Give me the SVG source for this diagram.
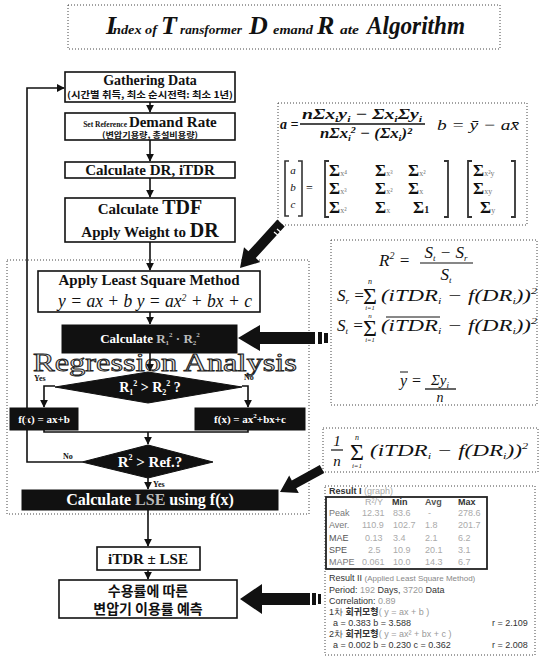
<svg xmlns="http://www.w3.org/2000/svg" width="541" height="659" viewBox="0 0 541 659">
<defs>
<style>
.box{fill:#fff;stroke:#111;stroke-width:1.6}
.blk{fill:#111;stroke:#111;stroke-width:1}
.dot{fill:none;stroke:#444;stroke-width:1;stroke-dasharray:1 2}
.bt{font-family:"Liberation Serif",serif;font-weight:bold;fill:#111;text-anchor:middle}
.wt{font-family:"Liberation Serif",serif;font-weight:bold;fill:#fff;text-anchor:middle}
.kr{font-family:"Noto Sans CJK KR","Noto Sans",sans-serif;font-weight:bold;fill:#111;text-anchor:middle}
.lab{font-family:"Liberation Serif",serif;font-weight:bold;font-size:8px;fill:#111}
.fm{font-family:"Liberation Serif",serif;font-style:italic;fill:#111}
.sg{font-family:"Liberation Serif",serif;fill:#111}
.sb{font-size:9px}
.rs{font-family:"Liberation Sans",sans-serif;font-size:9px;fill:#333}
.fa{fill:#aaa}
.conn{fill:none;stroke:#111;stroke-width:1.6}
.ti{font-family:"Liberation Serif",serif;font-style:italic;font-weight:bold;fill:#111}
.tc{font-size:26px}
.tl{font-size:12px}
</style>
<marker id="ah" viewBox="0 0 10 10" refX="9" refY="5" markerWidth="5" markerHeight="5" orient="auto">
<path d="M0,0 L10,5 L0,10 z" fill="#111"/>
</marker>
<pattern id="speck" width="7" height="7" patternUnits="userSpaceOnUse">
<rect width="7" height="7" fill="#f3f3f3"/>
<rect x="1" y="1" width="1" height="1" fill="#9a9a9a"/>
<rect x="4" y="3" width="1" height="1" fill="#b5b5b5"/>
<rect x="2" y="5" width="1" height="1" fill="#8a8a8a"/>
<rect x="6" y="6" width="1" height="1" fill="#c0c0c0"/>
</pattern>
</defs>

<!-- Title -->
<g id="title">
<rect x="68" y="5" width="432" height="44" fill="#fff" class="dot"/>
<text class="ti tc" x="106" y="34">I</text>
<text class="ti tl" x="113" y="34" textLength="44" lengthAdjust="spacingAndGlyphs">ndex of</text>
<text class="ti tc" x="161" y="34">T</text>
<text class="ti tl" x="180" y="34" textLength="62" lengthAdjust="spacingAndGlyphs">ransformer</text>
<text class="ti tc" x="249" y="34">D</text>
<text class="ti tl" x="273" y="34" textLength="40" lengthAdjust="spacingAndGlyphs">emand</text>
<text class="ti tc" x="317" y="34">R</text>
<text class="ti tl" x="340" y="34" textLength="19" lengthAdjust="spacingAndGlyphs">ate</text>
<text class="ti tc" x="367" y="34" textLength="98" lengthAdjust="spacingAndGlyphs">Algorithm</text>
</g>

<!-- Regression region -->
<g id="region">
<rect x="7" y="260" width="302" height="254" fill="url(#speck)" class="dot"/>
</g>

<!-- Right panels -->
<g id="panel1">
<rect x="278" y="103" width="249" height="122" fill="#fff" class="dot"/>
<text class="fm" x="280" y="129" font-size="14" font-weight="bold">a =</text>
<text class="fm" x="302" y="119" font-size="15" font-weight="bold" textLength="120" lengthAdjust="spacingAndGlyphs">n<tspan class="sg">Σ</tspan>x<tspan class="sb" dy="3">i</tspan><tspan dy="-3">y</tspan><tspan class="sb" dy="3">i</tspan><tspan dy="-3"> − </tspan><tspan class="sg">Σ</tspan>x<tspan class="sb" dy="3">i</tspan><tspan dy="-3" class="sg">Σ</tspan>y<tspan class="sb" dy="3">i</tspan></text>
<line x1="300" y1="124" x2="425" y2="124" stroke="#111" stroke-width="1.3"/>
<text class="fm" x="320" y="138" font-size="15" font-weight="bold" textLength="92" lengthAdjust="spacingAndGlyphs">n<tspan class="sg">Σ</tspan>x<tspan class="sb" dy="3">i</tspan><tspan class="sb" dy="-8">2</tspan><tspan dy="5"> − (</tspan><tspan class="sg">Σ</tspan>x<tspan class="sb" dy="3">i</tspan><tspan dy="-3">)²</tspan></text>
<text class="fm" x="437" y="130" font-size="15" fill="#555" textLength="82" lengthAdjust="spacingAndGlyphs">b = ȳ − ax̄</text>
<path d="M289,161 H285 V216 H289 M298,161 H302 V216 H298" fill="none" stroke="#333" stroke-width="1.6"/>
<text class="fm" x="293" y="174" font-size="11" text-anchor="middle" fill="#555">a</text>
<text class="fm" x="293" y="191" font-size="11" text-anchor="middle" fill="#555">b</text>
<text class="fm" x="293" y="208" font-size="11" text-anchor="middle" fill="#555">c</text>
<text class="sg" x="306" y="192" font-size="12" fill="#666">=</text>
<path d="M329,161 H325 V217 H329 M444,161 H448 V217 H444" fill="none" stroke="#333" stroke-width="1.8"/>
<g class="sg" font-size="17" font-weight="bold">
<text x="329" y="176">Σ<tspan font-size="8" font-weight="normal" fill="#777">x⁴</tspan></text>
<text x="375" y="176">Σ<tspan font-size="8" font-weight="normal" fill="#777">x³</tspan></text>
<text x="408" y="176">Σ<tspan font-size="8" font-weight="normal" fill="#777">x²</tspan></text>
<text x="329" y="194">Σ<tspan font-size="8" font-weight="normal" fill="#777">x³</tspan></text>
<text x="375" y="194">Σ<tspan font-size="8" font-weight="normal" fill="#777">x²</tspan></text>
<text x="408" y="194">Σ<tspan font-size="8" font-weight="normal" fill="#777">x</tspan></text>
<text x="329" y="213">Σ<tspan font-size="8" font-weight="normal" fill="#777">x²</tspan></text>
<text x="375" y="213">Σ<tspan font-size="8" font-weight="normal" fill="#777">x</tspan></text>
<text x="413" y="213">Σ<tspan font-size="10">1</tspan></text>
<text x="473" y="176">Σ<tspan font-size="8" font-weight="normal" fill="#777">x²y</tspan></text>
<text x="473" y="194">Σ<tspan font-size="8" font-weight="normal" fill="#777">xy</tspan></text>
<text x="480" y="213">Σ<tspan font-size="8" font-weight="normal" fill="#777">y</tspan></text>
</g>
<path d="M472,161 H468 V217 H472 M511,161 H515 V217 H511" fill="none" stroke="#333" stroke-width="1.8"/>
</g>

<g id="panel2">
<rect x="331" y="240" width="206" height="165" fill="#fff" class="dot"/>
<text class="fm" x="379" y="266" font-size="17">R<tspan font-size="10" dy="-7">2</tspan><tspan dy="7"> =</tspan></text>
<text class="fm" x="446" y="258" font-size="17" text-anchor="middle">S<tspan class="sb" dy="3">t</tspan><tspan dy="-3"> − S</tspan><tspan class="sb" dy="3">r</tspan></text>
<line x1="420" y1="263" x2="473" y2="263" stroke="#111" stroke-width="1.2"/>
<text class="fm" x="446" y="280" font-size="17" text-anchor="middle">S<tspan class="sb" dy="3">t</tspan></text>
<text class="fm" x="337" y="301" font-size="17">S<tspan class="sb" dy="3">r</tspan><tspan dy="-3"> =</tspan></text>
<text class="sg" x="370" y="304" font-size="24" text-anchor="middle">Σ</text>
<text class="fm" x="370" y="284" font-size="8" text-anchor="middle">n</text>
<text class="fm" x="370" y="310" font-size="6.5" text-anchor="middle">i=1</text>
<text class="fm" x="381" y="301" font-size="17" textLength="156" lengthAdjust="spacingAndGlyphs">(iTDR<tspan class="sb" dy="3">i</tspan><tspan dy="-3"> − f(DR</tspan><tspan class="sb" dy="3">i</tspan><tspan dy="-3">))</tspan><tspan class="sb" dy="-7">2</tspan></text>
<text class="fm" x="337" y="331" font-size="17">S<tspan class="sb" dy="3">t</tspan><tspan dy="-3"> =</tspan></text>
<text class="sg" x="370" y="336" font-size="24" text-anchor="middle">Σ</text>
<text class="fm" x="370" y="318" font-size="7" text-anchor="middle">n</text>
<text class="fm" x="370" y="342" font-size="6.5" text-anchor="middle">i=1</text>
<text class="fm" x="381" y="331" font-size="17" textLength="156" lengthAdjust="spacingAndGlyphs">(iTDR<tspan class="sb" dy="3">i</tspan><tspan dy="-3"> − f(DR</tspan><tspan class="sb" dy="3">i</tspan><tspan dy="-3">))</tspan><tspan class="sb" dy="-7">2</tspan></text>
<line x1="386" y1="317" x2="440" y2="317" stroke="#111" stroke-width="1"/>
<text class="fm" x="400" y="386" font-size="16">y =</text>
<line x1="400" y1="372" x2="408" y2="372" stroke="#111" stroke-width="1"/>
<text class="fm" x="440" y="385" font-size="15" text-anchor="middle"><tspan class="sg">Σ</tspan>y<tspan class="sb" dy="3">i</tspan></text>
<line x1="425" y1="389" x2="456" y2="389" stroke="#111" stroke-width="1.3"/>
<text class="fm" x="440" y="402" font-size="14" text-anchor="middle">n</text>
</g>

<g id="panel3">
<rect x="323" y="428" width="215" height="44" fill="#fff" class="dot"/>
<text class="fm" x="337" y="446" font-size="15" text-anchor="middle">1</text>
<line x1="331" y1="450" x2="343" y2="450" stroke="#111" stroke-width="1.2"/>
<text class="fm" x="337" y="466" font-size="15" text-anchor="middle">n</text>
<text class="sg" x="357" y="460" font-size="24" text-anchor="middle">Σ</text>
<text class="fm" x="357" y="440" font-size="8" text-anchor="middle">n</text>
<text class="fm" x="357" y="468" font-size="7" text-anchor="middle">i=1</text>
<text class="fm" x="370" y="456" font-size="17" textLength="158" lengthAdjust="spacingAndGlyphs">(iTDR<tspan class="sb" dy="3">i</tspan><tspan dy="-3"> − f(DR</tspan><tspan class="sb" dy="3">i</tspan><tspan dy="-3">))</tspan><tspan class="sb" dy="-7">2</tspan></text>
</g>

<g id="panel4">
<rect x="325" y="486" width="210" height="169" fill="#fff" class="dot"/>
<text class="rs" x="329" y="494" font-weight="bold" fill="#222">Result I <tspan class="fa" font-weight="normal">(graph)</tspan></text>
<rect x="326" y="497" width="161" height="72" fill="#fff" stroke="#222" stroke-width="1.8"/>
<g class="rs" font-size="7.5px">
<text x="365" y="505" class="fa">R²/Y</text>
<text x="392" y="505" font-weight="bold" fill="#333">Min</text>
<text x="425" y="505" font-weight="bold" fill="#555">Avg</text>
<text x="458" y="505" font-weight="bold" fill="#333">Max</text>
<text x="329" y="516" fill="#777">Peak</text><text x="362" y="516" class="fa">12.31</text><text x="393" y="516" class="fa">83.6</text><text x="428" y="516" class="fa">-</text><text x="458" y="516" class="fa">278.6</text>
<text x="329" y="528" fill="#777">Aver.</text><text x="362" y="528" class="fa">110.9</text><text x="393" y="528" class="fa">102.7</text><text x="425" y="528" class="fa">1.8</text><text x="458" y="528" class="fa">201.7</text>
<text x="329" y="541" fill="#555">MAE</text><text x="365" y="541" class="fa">0.13</text><text x="393" y="541" class="fa">3.4</text><text x="425" y="541" class="fa">2.1</text><text x="458" y="541" class="fa">6.2</text>
<text x="329" y="553" fill="#555">SPE</text><text x="368" y="553" class="fa">2.5</text><text x="393" y="553" class="fa">10.9</text><text x="425" y="553" class="fa">20.1</text><text x="458" y="553" class="fa">3.1</text>
<text x="329" y="565" fill="#777">MAPE</text><text x="362" y="565" class="fa">0.061</text><text x="393" y="565" class="fa">10.0</text><text x="425" y="565" class="fa">14.3</text><text x="458" y="565" class="fa">6.7</text>
</g>
<text class="rs" x="329" y="581" fill="#333">Result II <tspan fill="#888" font-size="8">(Applied Least Square Method)</tspan></text>
<text class="rs" x="329" y="593" fill="#333">Period: <tspan fill="#999">192</tspan> Days, <tspan fill="#999">3720</tspan> Data</text>
<text class="rs" x="329" y="604" fill="#444">Correlation: <tspan fill="#999">0.89</tspan></text>
<text class="rs" x="329" y="615" fill="#333">1차 <tspan font-weight="bold" font-family="Noto Sans CJK KR,sans-serif">회귀모형</tspan><tspan fill="#999">( y = ax + b )</tspan></text>
<text class="rs" x="333" y="626" fill="#999">a = 0.383   <tspan fill="#333">b</tspan> = 3.588</text>
<text class="rs" x="492" y="626" fill="#999">r = 2.109</text>
<text class="rs" x="329" y="637" fill="#333">2차 <tspan font-weight="bold" font-family="Noto Sans CJK KR,sans-serif">회귀모형</tspan><tspan fill="#999">( y = ax² + bx + c )</tspan></text>
<text class="rs" x="333" y="648" fill="#999">a = 0.002   <tspan fill="#333">b</tspan> = 0.230   c = 0.362</text>
<text class="rs" x="492" y="648" fill="#999">r = 2.008</text>
</g>

<!-- Flowchart nodes -->
<g id="n_gather">
<rect x="65" y="72" width="170" height="30" class="box"/>
<text class="bt" x="150" y="85" font-size="14">Gathering Data</text>
<text class="kr" x="150" y="98" font-size="9" textLength="166" lengthAdjust="spacingAndGlyphs">(시간별 취득, 최소 순시전력: 최소 1년)</text>
</g>
<g id="n_setref">
<rect x="65" y="113" width="170" height="27" class="box"/>
<text class="bt" x="150" y="127"><tspan font-size="7.5">Set Reference </tspan><tspan font-size="15">Demand Rate</tspan></text>
<text class="kr" x="150" y="137.5" font-size="8" textLength="96" lengthAdjust="spacingAndGlyphs">(변압기용량, 총설비용량)</text>
</g>
<g id="n_calcdr">
<rect x="65" y="162" width="170" height="16" class="box"/>
<text class="bt" x="150" y="175" font-size="15">Calculate DR, iTDR</text>
</g>
<g id="n_tdf">
<rect x="65" y="198" width="170" height="44" class="box"/>
<text class="bt" x="150" y="214" font-size="15">Calculate <tspan font-size="20">TDF</tspan></text>
<text class="bt" x="150" y="237" font-size="15">Apply Weight to <tspan font-size="20">DR</tspan></text>
</g>
<g id="n_lsm">
<rect x="38" y="271" width="222" height="41" class="box"/>
<text class="bt" x="149" y="285" font-size="15">Apply Least Square Method</text>
<text class="fm" x="58" y="307" font-size="18" textLength="194" lengthAdjust="spacingAndGlyphs">y = ax + b    y = ax<tspan font-size="10" dy="-6">2</tspan><tspan dy="6"> + bx + c</tspan></text>
</g>
<g id="n_calcr">
<rect x="62" y="325" width="175" height="28" class="blk"/>
<text class="wt" x="150" y="343" font-size="13" font-weight="normal">Calculate <tspan fill="#bbb">R<tspan font-size="7" dy="2">1</tspan><tspan font-size="7" dy="-8">2</tspan><tspan dy="6"> · R</tspan><tspan font-size="7" dy="2">2</tspan><tspan font-size="7" dy="-8">2</tspan></tspan></text>
</g>
<g id="regtext">
<text x="33" y="371" font-family="Liberation Serif,serif" font-size="25" fill="#e4e4e4" stroke="#222" stroke-width="0.9" textLength="264" lengthAdjust="spacingAndGlyphs">Regression Analysis</text>
</g>
<g id="n_dia1">
<polygon points="55,387 148,372 242,387 148,403" class="blk"/>
<text class="wt" x="150" y="392" font-size="14" font-weight="normal">R<tspan font-size="8" dy="3">1</tspan><tspan font-size="8" dy="-9">2</tspan><tspan dy="6"> &gt; R</tspan><tspan font-size="8" dy="3">2</tspan><tspan font-size="8" dy="-9">2</tspan><tspan dy="6"> ?</tspan></text>
</g>
<g id="n_f1">
<rect x="10" y="408" width="68" height="22" class="blk"/>
<text class="wt" x="44" y="423" font-size="11">f(x) = ax+b</text>
</g>
<g id="n_f2">
<rect x="195" y="408" width="110" height="22" class="blk"/>
<text class="wt" x="250" y="423" font-size="11">f(x) = ax<tspan font-size="7" dy="-5">2</tspan><tspan dy="5">+bx+c</tspan></text>
</g>
<g id="n_dia2">
<polygon points="82,462 148,445 213,462 148,478" class="blk"/>
<text class="wt" x="150" y="467" font-size="15" font-weight="normal">R<tspan font-size="8" dy="-7">2</tspan><tspan dy="7"> &gt; Ref.?</tspan></text>
</g>
<g id="n_lse">
<rect x="22" y="490" width="256" height="20" class="blk"/>
<text class="wt" x="150" y="505" font-size="16" font-weight="normal">Calculate <tspan fill="#bbb">LSE</tspan> using f(x)</text>
</g>
<g id="n_itdr">
<rect x="97" y="547" width="103" height="23" class="box"/>
<text class="bt" x="148" y="564" font-size="15">iTDR ± LSE</text>
</g>
<g id="n_pred">
<rect x="59" y="580" width="178" height="38" class="box"/>
<text class="kr" x="148" y="596" font-size="14">수용률에 따른</text>
<text class="kr" x="148" y="614" font-size="14">변압기 이용률 예측</text>
</g>

<!-- Connectors -->
<g id="connectors">
<path class="conn" d="M150,102 V112" marker-end="url(#ah)"/>
<path class="conn" d="M150,140 V161" marker-end="url(#ah)"/>
<path class="conn" d="M150,178 V197" marker-end="url(#ah)"/>
<path class="conn" d="M150,242 V270" marker-end="url(#ah)"/>
<path class="conn" d="M150,312 V324" marker-end="url(#ah)"/>
<path class="conn" d="M150,353 V371" marker-end="url(#ah)"/>
<path class="conn" d="M55,386 H44 V407" marker-end="url(#ah)"/>
<path class="conn" d="M242,386 H248 V407" marker-end="url(#ah)"/>
<path class="conn" d="M44,430 V432 H248 V430"/>
<path class="conn" d="M148,432 V444" marker-end="url(#ah)"/>
<path class="conn" d="M148,478 V489" marker-end="url(#ah)"/>
<path class="conn" d="M82,462 H27 V88 H64" marker-end="url(#ah)"/>
<path class="conn" d="M148,510 V546" marker-end="url(#ah)"/>
<path class="conn" d="M148,570 V579" marker-end="url(#ah)"/>
<text class="lab" x="34" y="381">Yes</text>
<text class="lab" x="244" y="380">No</text>
<text class="lab" x="63" y="459">No</text>
<text class="lab" x="153" y="487">Yes</text>
<!-- thick arrows -->
<polygon points="284.7,226.4 255.8,258.1 260.2,262.1 240,268 244.0,247.3 248.4,251.3 277.3,219.6" fill="#111"/>
<line x1="274" y1="232" x2="280" y2="237" stroke="#fff" stroke-width="1.2"/>
<line x1="277" y1="229" x2="283" y2="234" stroke="#fff" stroke-width="1.2"/>
<polygon points="238,338 260,325 260,332 315,332 315,344 260,344 260,351" fill="#111"/>
<rect x="318" y="332" width="4" height="12" fill="#111"/>
<rect x="324" y="333" width="4" height="10" fill="#111"/>
<polygon points="324.2,472.9 296.2,488.2 298.8,493.1 280,492 289.2,475.5 291.8,480.4 319.8,465.1" fill="#111"/>
<polygon points="240,599 262,584 262,593 310,593 310,605 262,605 262,614" fill="#111"/>
<rect x="312" y="593" width="4" height="12" fill="#111"/>
<rect x="318" y="594" width="3" height="10" fill="#111"/>
</g>
</svg>
